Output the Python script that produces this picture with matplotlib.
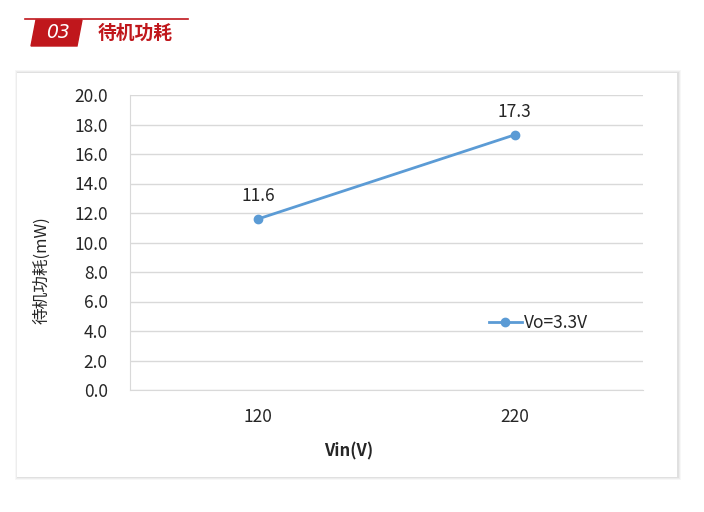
import matplotlib.pyplot as plt
from matplotlib.patches import Polygon, Rectangle

plt.rcParams['font.family'] = ['Noto Sans CJK SC', 'DejaVu Sans']

vin = ["120", "220"]
power = [11.6, 17.3]
series_name = "Vo=3.3V"
yticks = [0, 2, 4, 6, 8, 10, 12, 14, 16, 18, 20]

W, H = 704, 512
fig = plt.figure(figsize=(W / 100, H / 100), dpi=100)
fig.patch.set_facecolor("white")

red = "#C0171C"
fs = 12.5

# header: red line, tag with number, title
fig.add_artist(plt.Line2D([25 / W, 188 / W], [1 - 19 / H, 1 - 19 / H], color=red, lw=1.2))
tag = Polygon([(36 / W, 1 - 20 / H), (82 / W, 1 - 20 / H), (77 / W, 1 - 46 / H), (31 / W, 1 - 46 / H)],
              closed=True, transform=fig.transFigure, color=red)
fig.add_artist(tag)
fig.text(58 / W, 1 - 33 / H, "03", color="white", fontsize=13.5, style="italic",
         ha="center", va="center", family=["DejaVu Sans"])
fig.text(98 / W, 1 - 33 / H, "待机功耗", color=red, fontsize=13.5, fontweight="bold",
         ha="left", va="center")

# card with soft shadow, behind the axes
for i, a in enumerate([0.03, 0.04, 0.05]):
    off = 3 - i
    fig.add_artist(Rectangle(((17 - off + 1) / W, 1 - (477 + off) / H), (660 + 2 * off) / W, (404 + 2 * off) / H,
                             transform=fig.transFigure, facecolor="black", alpha=a, lw=0, zorder=-3))
fig.add_artist(Rectangle((17 / W, 1 - 477 / H), 660 / W, 404 / H,
                         transform=fig.transFigure, facecolor="white", lw=0, zorder=-2))

ax = fig.add_axes([130 / W, 1 - 390 / H, 513 / W, 295 / H])
ax.set_zorder(1)
ax.set_facecolor("white")
x = list(range(len(vin)))
ax.plot(x, power, color="#5B9BD5", lw=2, marker="o", ms=6, label=series_name)
for xi, v in zip(x, power):
    ax.annotate(f"{v:.1f}", (xi, v), xytext=(0, 10), textcoords="offset points",
                ha="center", va="bottom", fontsize=fs, color="#262626")

ax.set_xlim(-0.5, 1.5)
ax.set_ylim(0, 20)
ax.set_yticks(yticks)
ax.set_yticklabels([f"{t:.1f}" for t in yticks], fontsize=fs, color="#262626")
ax.set_xticks(x)
ax.set_xticklabels(vin, fontsize=fs, color="#262626")
ax.tick_params(axis="both", length=0)
ax.tick_params(axis="y", pad=16)
ax.tick_params(axis="x", pad=13)
ax.grid(axis="y", color="#D9D9D9", lw=1)
ax.set_axisbelow(True)
for s in ["top", "right"]:
    ax.spines[s].set_visible(False)
ax.spines["left"].set_color("#D9D9D9")
ax.spines["bottom"].set_color("#D9D9D9")

ax.set_xlabel("Vin(V)", fontsize=12, color="#262626", fontweight="bold")
ax.xaxis.set_label_coords((349 - 130) / 513, -(442 - 390) / 295)
ax.set_ylabel("待机功耗(mW)", fontsize=12, color="#262626")
ax.yaxis.set_label_coords(-(130 - 50) / 513, (390 - 270) / 295)

leg = ax.legend(loc="center left", bbox_to_anchor=((489 - 130) / 513, (390 - 323) / 295),
                frameon=False, fontsize=fs, handlelength=1.9, handletextpad=0.1,
                borderaxespad=0, borderpad=0)
for t in leg.get_texts():
    t.set_color("#262626")

fig.savefig("out.png", dpi=100, facecolor="white")
